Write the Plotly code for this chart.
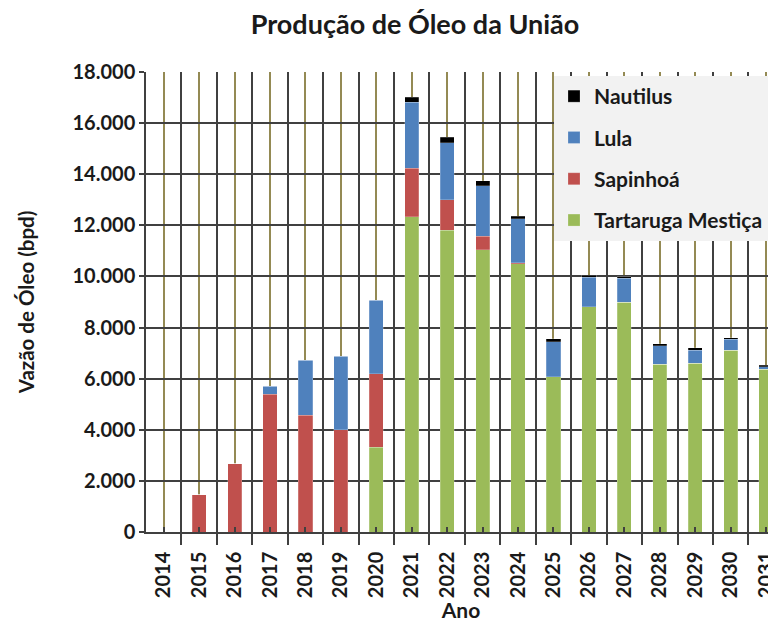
import plotly.graph_objects as go

years = ["2014", "2015", "2016", "2017", "2018", "2019", "2020", "2021", "2022",
         "2023", "2024", "2025", "2026", "2027", "2028", "2029", "2030", "2031"]
tartaruga = [0, 0, 0, 0, 0, 0, 3310, 12340, 11800, 11050, 10490, 6070, 8820, 8990, 6560, 6600, 7120, 6370]
sapinhoa = [0, 1450, 2680, 5390, 4570, 4000, 2880, 1900, 1210, 530, 40, 0, 0, 0, 0, 0, 0, 0]
lula = [0, 0, 0, 320, 2160, 2870, 2870, 2570, 2230, 1970, 1720, 1380, 1150, 940, 720, 520, 430, 90]
nautilus = [0, 0, 0, 0, 0, 0, 0, 210, 200, 200, 100, 120, 80, 65, 90, 90, 60, 65]

series = [
    ("Tartaruga Mestiça", tartaruga, "#9BBB59", 4),
    ("Sapinhoá", sapinhoa, "#C0504D", 3),
    ("Lula", lula, "#4F81BD", 2),
    ("Nautilus", nautilus, "#000000", 1),
]

xpos = list(range(len(years)))
FONT = "Lato"
TXT = "#1a1a1a"

# page body has an 8px margin
W, H = 768, 614

fig = go.Figure()
for name, vals, color, rank in series:
    fig.add_trace(go.Bar(
        x=xpos, y=vals, name=name, width=0.4,
        marker=dict(color=color, line=dict(color="rgba(255,255,255,0.35)", width=0.6)),
        legendgroup=name, legendrank=rank,
    ))

fig.update_layout(
    width=W, height=H,
    barmode="stack",
    separators=",.",
    paper_bgcolor="white",
    plot_bgcolor="white",
    margin=dict(l=138, r=0, t=64, b=90, autoexpand=False),
    font=dict(family=FONT, color=TXT, size=20, weight="bold"),
    title=dict(text="Produção de Óleo da União", x=(415 - 8) / W, xanchor="center",
               y=1 - (25 - 8) / H, yanchor="middle",
               font=dict(family=FONT, size=27, weight="bold", color=TXT)),
    legend=dict(
        x=(554 - 146) / 630, y=(532 - 76) / 460, xanchor="left", yanchor="top",
        bgcolor="#f2f2f2", traceorder="grouped", tracegroupgap=11,
        font=dict(family=FONT, size=21, weight="bold", color=TXT),
    ),
)

fig.update_xaxes(
    range=[-0.5, 17.28],
    tickmode="array", tickvals=xpos, ticktext=years, tickangle=-90,
    ticklabeloverflow="allow",
    showgrid=True, gridcolor="#948A54", gridwidth=1.5,
    ticks="inside", ticklen=5, tickcolor="#404040", tickwidth=1.5,
    ticklabelstandoff=10,
    showline=True, linecolor="#404040", linewidth=1.5,
    zeroline=False,
    tickfont=dict(family=FONT, size=20, weight="bold", color=TXT),
    title=dict(text="Ano", standoff=3, font=dict(family=FONT, size=21, weight="bold")),
    minor=dict(tickmode="array", tickvals=[v + 0.5 for v in xpos],
               showgrid=True, gridcolor="#404040", gridwidth=1.5,
               ticks="outside", ticklen=11, tickcolor="#404040", tickwidth=1.5),
)

fig.update_yaxes(
    range=[0, 18000], dtick=2000, tickformat=",d",
    showgrid=True, gridcolor="#404040", gridwidth=1.5,
    ticks="outside", ticklen=5, tickcolor="#404040", tickwidth=1.5,
    showline=True, linecolor="#404040", linewidth=1.5,
    zeroline=False,
    tickfont=dict(family=FONT, size=20, weight="bold", color=TXT),
    title=dict(text="Vazão de Óleo (bpd)", standoff=32,
               font=dict(family=FONT, size=20.5, weight="bold")),
)

fig.write_html("out.html")
